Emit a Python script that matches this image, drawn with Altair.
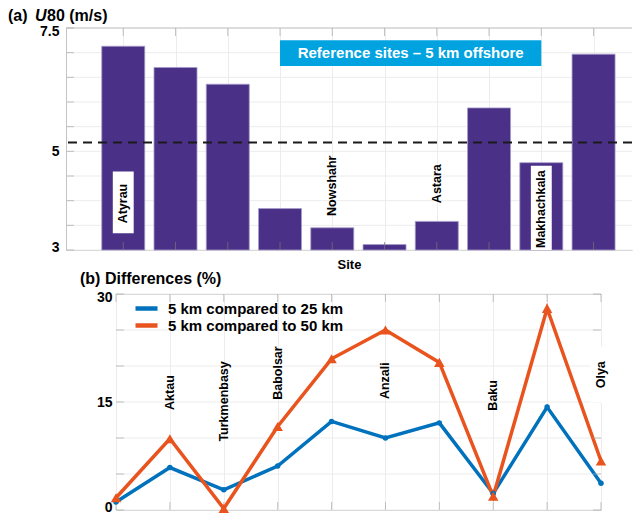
import altair as alt
import pandas as pd

# ---------------- data ----------------
site_index = [1, 2, 3, 4, 5, 6, 7, 8, 9, 10]
u80_values = [7.13, 6.70, 6.36, 3.84, 3.45, 3.11, 3.58, 5.88, 4.77, 6.97]
u80_mean = 5.18

top_label_site = [1, 5, 7, 9]
top_label_text = ["Atyrau", "Nowshahr", "Astara", "Makhachkala"]
top_label_y = [3.54, 3.69, 3.95, 3.04]
top_box_site = [1, 9]
top_box_y1 = [3.34, 3.0]
top_box_y2 = [4.59, 4.71]

banner_text = "Reference sites \u2013 5 km offshore"
banner_x = [4, 9]
banner_y = [6.73, 7.25]

diff_25 = [1.1, 5.9, 2.8, 6.1, 12.3, 10.0, 12.1, 2.3, 14.3, 3.7]
diff_50 = [1.7, 9.9, 0.2, 11.6, 21.0, 25.0, 20.5, 1.9, 28.0, 6.8]
series_names = ["5 km compared to 25 km", "5 km compared to 50 km"]

bottom_label_site = [2, 3, 4, 6, 8, 10]
bottom_label_text = ["Aktau", "Turkmenbasy", "Babolsar", "Anzali", "Baku", "Olya"]
bottom_label_y = [13.9, 9.5, 15.3, 15.4, 13.8, 16.9]
bottom_box_site = [10]
bottom_box_y1 = [14.9]
bottom_box_y2 = [22.7]

top_ticks = [3.0, 3.5, 4.0, 4.5, 5.0, 5.5, 6.0, 6.5, 7.0, 7.5]
top_tick_labels = [3, 5, 7.5]
bottom_ticks = [0, 5, 10, 15, 20, 25, 30]
bottom_tick_labels = [0, 15, 30]

# ---------------- styles ----------------
SANS = "Liberation Sans, Arial, Helvetica"
FRAME = "#c4c4c4"
GRID = "#ececec"
TICK = "#a8a8a8"
BAR = "#4B3088"
BLUE = "#0072BD"
ORANGE = "#E9531D"
BANNER = "#00A3E0"

W1, H1 = 566, 222
W2, H2 = 485, 216
HALF_BOX = 0.2

# ---------------- tables ----------------
df_bars = pd.DataFrame({"site": site_index, "u": u80_values})
df_mean = pd.DataFrame({"m": [u80_mean]})
df_top_lab = pd.DataFrame({"site": top_label_site, "name": top_label_text, "y": top_label_y})
df_top_box = pd.DataFrame({
    "x1": [s - HALF_BOX for s in top_box_site],
    "x2": [s + HALF_BOX for s in top_box_site],
    "y1": top_box_y1, "y2": top_box_y2,
})
df_banner = pd.DataFrame({"x1": [banner_x[0]], "x2": [banner_x[1]],
                          "y1": [banner_y[0]], "y2": [banner_y[1]],
                          "xc": [sum(banner_x) / 2], "yc": [sum(banner_y) / 2],
                          "t": [banner_text]})
df_top_ticks = pd.DataFrame({"t": top_ticks})
df_sites = pd.DataFrame({"site": site_index})

df_lines = pd.DataFrame({
    "site": site_index * 2,
    "value": diff_25 + diff_50,
    "series": [series_names[0]] * len(site_index) + [series_names[1]] * len(site_index),
})
df_bot_lab = pd.DataFrame({"site": bottom_label_site, "name": bottom_label_text, "y": bottom_label_y})
df_bot_box = pd.DataFrame({
    "x1": [s - HALF_BOX for s in bottom_box_site],
    "x2": [s + HALF_BOX for s in bottom_box_site],
    "y1": bottom_box_y1, "y2": bottom_box_y2,
})
df_bot_ticks = pd.DataFrame({"t": bottom_ticks})

# ---------------- top panel ----------------
xs_top = alt.Scale(domain=[0, 10.64], nice=False, zero=False)
ys_top = alt.Scale(domain=[3, 7.5], nice=False, zero=False)

top_grid = alt.Chart(df_top_ticks).mark_rule(color=GRID, strokeWidth=1).encode(
    y=alt.Y("t:Q", scale=ys_top, axis=alt.Axis(
        values=top_tick_labels, grid=False, ticks=False, domainColor=FRAME,
        labelExpr="toString(datum.value)", labelOverlap=False,
        labelFlush=True, labelFlushOffset=4,
        labelFont=SANS, labelFontSize=14, labelFontWeight="bold", labelColor="black",
        labelPadding=7, title=None)))

bars = alt.Chart(df_bars).mark_bar(size=43, color=BAR, stroke="#a59cc8", strokeWidth=0.8).encode(
    x=alt.X("site:Q", scale=xs_top, axis=alt.Axis(
        values=site_index, grid=True, gridColor=GRID, labels=False, ticks=False,
        domainColor=FRAME, title="Site", titleFont=SANS, titleFontSize=13,
        titleFontWeight="bold", titleColor="black", titlePadding=8)),
    y=alt.Y("u:Q", scale=ys_top),
    y2=alt.datum(3),
)

top_edge = alt.Chart(df_mean).mark_rule(color=FRAME, strokeWidth=1).encode(
    x=alt.value(0), x2=alt.value(W1), y=alt.value(0))

left_ticks = alt.Chart(df_top_ticks).mark_tick(orient="horizontal", size=8, thickness=1, color=TICK).encode(
    y=alt.Y("t:Q", scale=ys_top), x=alt.value(4))
top_ticks_m = alt.Chart(df_sites).mark_tick(orient="vertical", size=8, thickness=1, color=TICK).encode(
    x=alt.X("site:Q", scale=xs_top), y=alt.value(4))
bot_ticks_m = alt.Chart(df_sites).mark_tick(orient="vertical", size=8, thickness=1, color="#777777").encode(
    x=alt.X("site:Q", scale=xs_top), y=alt.value(H1 - 4))

mean_line = alt.Chart(df_mean).mark_rule(strokeDash=[9, 6], strokeWidth=2, color="#1a1a1a").encode(
    y=alt.Y("m:Q", scale=ys_top))

white_boxes = alt.Chart(df_top_box).mark_rect(fill="white").encode(
    x=alt.X("x1:Q", scale=xs_top), x2="x2:Q",
    y=alt.Y("y1:Q", scale=ys_top), y2="y2:Q")

top_labels = alt.Chart(df_top_lab).mark_text(
    angle=270, align="left", baseline="middle", font=SANS, fontSize=12.5,
    fontWeight="bold", color="black").encode(
    x=alt.X("site:Q", scale=xs_top),
    y=alt.Y("y:Q", scale=ys_top), text="name:N")

banner_rect = alt.Chart(df_banner).mark_rect(color=BANNER).encode(
    x=alt.X("x1:Q", scale=xs_top), x2="x2:Q",
    y=alt.Y("y1:Q", scale=ys_top), y2="y2:Q")
banner_txt = alt.Chart(df_banner).mark_text(
    color="white", font=SANS, fontSize=15, fontWeight="bold", baseline="middle").encode(
    x=alt.X("xc:Q", scale=xs_top),
    y=alt.Y("yc:Q", scale=ys_top), text="t:N")

title_a = alt.Chart(df_mean).mark_text(align="left", baseline="middle", font=SANS,
                                      fontSize=16, fontWeight="bold", color="black").encode(
    x=alt.value(-58), y=alt.value(-12), text=alt.value("(a)"))
title_u = alt.Chart(df_mean).mark_text(align="left", baseline="middle", font=SANS,
                                      fontSize=16, fontWeight="bold", fontStyle="italic",
                                      color="black").encode(
    x=alt.value(-31), y=alt.value(-12), text=alt.value("U"))
title_rest = alt.Chart(df_mean).mark_text(align="left", baseline="middle", font=SANS,
                                         fontSize=16, fontWeight="bold", color="black").encode(
    x=alt.value(-19), y=alt.value(-12), text=alt.value("80 (m/s)"))

top = alt.layer(
    top_grid, bars, bot_ticks_m, top_edge, left_ticks, top_ticks_m, mean_line,
    white_boxes, top_labels, banner_rect, banner_txt, title_a, title_u, title_rest,
).properties(width=W1, height=H1)

# ---------------- bottom panel ----------------
xs_bot = alt.Scale(domain=[1, 10], nice=False, zero=False)
ys_bot = alt.Scale(domain=[0, 30], nice=False, zero=False)
color_scale = alt.Scale(domain=series_names, range=[BLUE, ORANGE])

bot_grid = alt.Chart(df_bot_ticks).mark_rule(color=GRID, strokeWidth=1).encode(
    y=alt.Y("t:Q", scale=ys_bot, axis=alt.Axis(
        values=bottom_tick_labels, grid=False, ticks=False, domain=False,
        labelExpr="toString(datum.value)", labelOverlap=False,
        labelFlush=True, labelFlushOffset=4,
        labelFont=SANS, labelFontSize=14, labelFontWeight="bold", labelColor="black",
        labelPadding=4, title=None)))

lines = alt.Chart(df_lines).mark_line(strokeWidth=3.5).encode(
    x=alt.X("site:Q", scale=xs_bot, axis=alt.Axis(
        values=site_index, grid=True, gridColor=GRID, labels=False, ticks=False,
        domain=False, title=None)),
    y=alt.Y("value:Q", scale=ys_bot),
    color=alt.Color("series:N", scale=color_scale, legend=alt.Legend(
        title=None, orient="none", legendX=23, legendY=7, direction="vertical",
        symbolType="M-2.2,0L2.2,0", symbolSize=100, symbolStrokeWidth=4.5,
        labelFont=SANS, labelFontSize=15, labelFontWeight="bold", labelColor="black",
        labelLimit=0, labelOffset=14, rowPadding=-3, padding=0)),
)

pts_blue = alt.Chart(df_lines).transform_filter(
    alt.datum.series == series_names[0]
).mark_point(filled=True, opacity=1, shape="circle", size=30, color=BLUE).encode(
    x=alt.X("site:Q", scale=xs_bot), y=alt.Y("value:Q", scale=ys_bot))
pts_orange = alt.Chart(df_lines).transform_filter(
    alt.datum.series == series_names[1]
).mark_point(filled=True, opacity=1, shape="triangle-up", size=110, color=ORANGE).encode(
    x=alt.X("site:Q", scale=xs_bot), y=alt.Y("value:Q", scale=ys_bot))

b_left_ticks = alt.Chart(df_bot_ticks).mark_tick(orient="horizontal", size=8, thickness=1, color=TICK).encode(
    y=alt.Y("t:Q", scale=ys_bot), x=alt.value(4))
b_right_ticks = alt.Chart(df_bot_ticks).mark_tick(orient="horizontal", size=8, thickness=1, color=TICK).encode(
    y=alt.Y("t:Q", scale=ys_bot), x=alt.value(W2 - 4))
b_top_ticks = alt.Chart(df_sites).mark_tick(orient="vertical", size=8, thickness=1, color=TICK).encode(
    x=alt.X("site:Q", scale=xs_bot), y=alt.value(4))
b_bot_ticks = alt.Chart(df_sites).mark_tick(orient="vertical", size=8, thickness=1, color=TICK).encode(
    x=alt.X("site:Q", scale=xs_bot), y=alt.value(H2 - 4))

bot_boxes = alt.Chart(df_bot_box).mark_rect(fill="white").encode(
    x=alt.X("x1:Q", scale=xs_bot), x2="x2:Q",
    y=alt.Y("y1:Q", scale=ys_bot), y2="y2:Q")

bot_labels = alt.Chart(df_bot_lab).mark_text(
    angle=270, align="left", baseline="middle", font=SANS, fontSize=12.5,
    fontWeight="bold", color="black").encode(
    x=alt.X("site:Q", scale=xs_bot),
    y=alt.Y("y:Q", scale=ys_bot), text="name:N")

title_b = alt.Chart(df_mean).mark_text(align="left", baseline="middle", font=SANS,
                                      fontSize=16, fontWeight="bold", color="black").encode(
    x=alt.value(-36), y=alt.value(-15), text=alt.value("(b)  Differences (%)"))

bottom = alt.layer(
    bot_grid, lines, b_left_ticks, b_right_ticks, b_top_ticks, b_bot_ticks, bot_boxes,
    pts_blue, pts_orange, bot_labels, title_b,
).properties(width=W2, height=H2, view=alt.ViewBackground(stroke=FRAME, strokeWidth=1))

spacer = alt.Chart(df_mean).mark_point(opacity=0, size=1).encode(
    x=alt.value(0), y=alt.value(0)).properties(width=50, height=H2)

bottom_row = alt.hconcat(spacer, bottom, spacing=0, bounds="flush").resolve_scale(
    color="independent").resolve_legend(color="independent")

chart = alt.vconcat(top, bottom_row, spacing=44, bounds="flush").resolve_scale(
    color="independent").resolve_legend(color="independent").properties(
    padding=0, background="white"
).configure_view(stroke=None).configure_axis(labelOverlap=False)

chart.save("out.html", embed_options={"renderer": "svg", "actions": False})
